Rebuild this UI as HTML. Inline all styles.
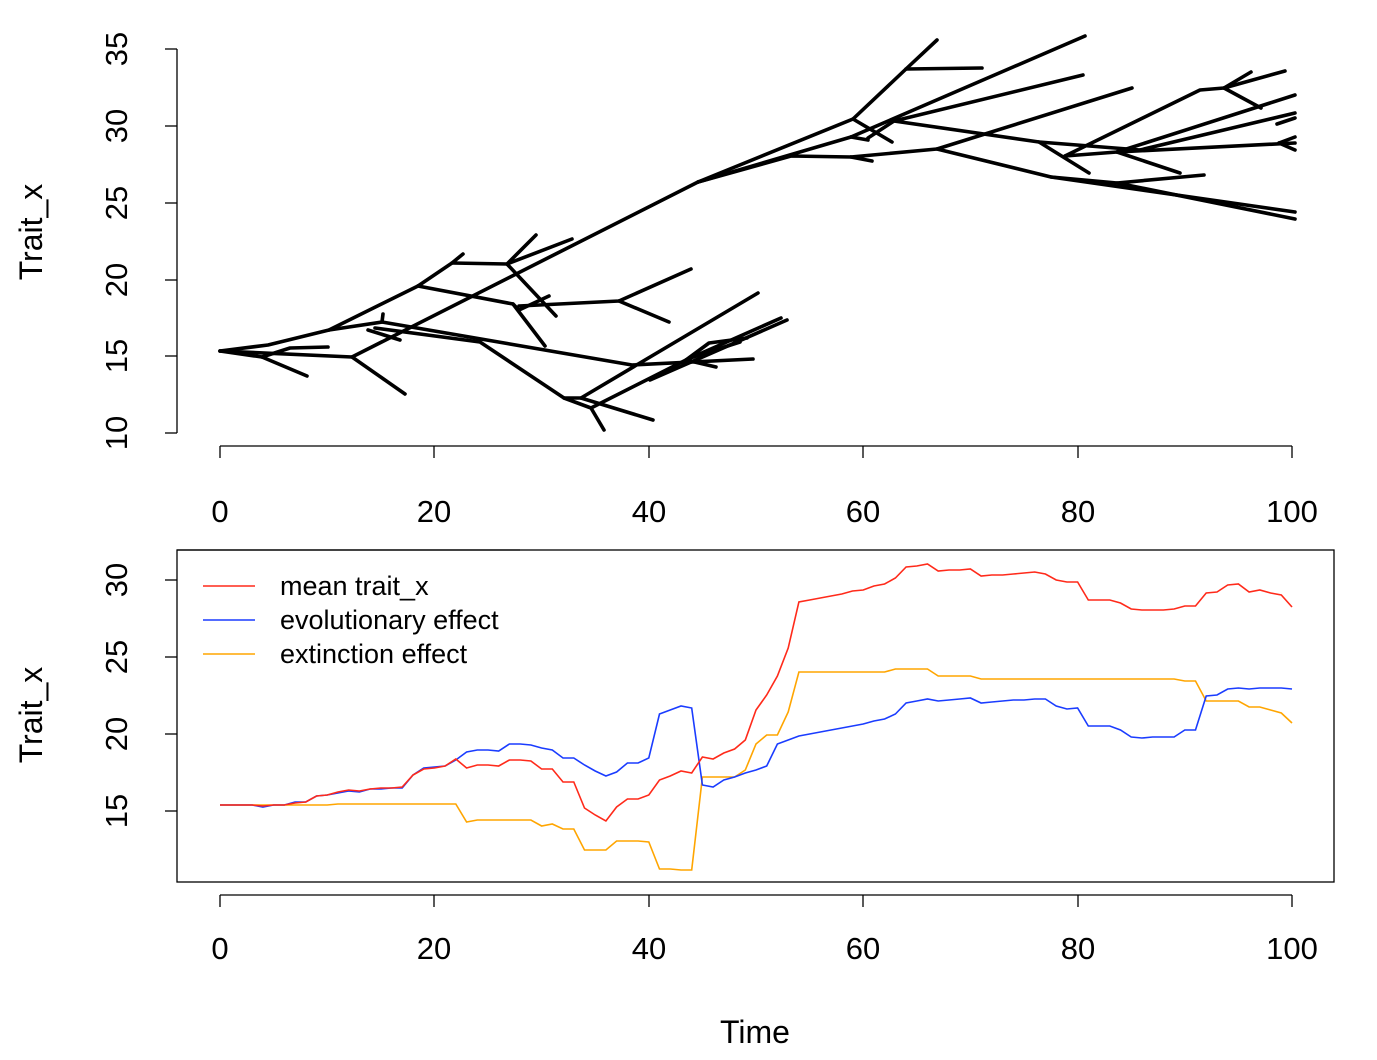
<!DOCTYPE html>
<html><head><meta charset="utf-8"><style>
html,body{margin:0;padding:0;background:#fff}
svg{display:block}
text{font-family:"Liberation Sans",Arial,sans-serif;fill:#000}
</style></head><body>
<svg id="s" width="1377" height="1060" viewBox="0 0 1377 1060" xmlns="http://www.w3.org/2000/svg">
<g stroke="#000" stroke-width="1.3" fill="none">
<line x1="177" y1="49" x2="177" y2="433"/>
<line x1="165" y1="49" x2="177" y2="49"/><line x1="165" y1="126" x2="177" y2="126"/><line x1="165" y1="203" x2="177" y2="203"/><line x1="165" y1="280" x2="177" y2="280"/><line x1="165" y1="356" x2="177" y2="356"/><line x1="165" y1="433" x2="177" y2="433"/>
<line x1="220" y1="446" x2="1292" y2="446"/>
<line x1="220" y1="446" x2="220" y2="458"/><line x1="434" y1="446" x2="434" y2="458"/><line x1="649" y1="446" x2="649" y2="458"/><line x1="863" y1="446" x2="863" y2="458"/><line x1="1078" y1="446" x2="1078" y2="458"/><line x1="1292" y1="446" x2="1292" y2="458"/>
<rect x="177" y="550" width="1157" height="332"/>
<line x1="165" y1="580" x2="177" y2="580"/><line x1="165" y1="657" x2="177" y2="657"/><line x1="165" y1="734" x2="177" y2="734"/><line x1="165" y1="811" x2="177" y2="811"/>
<line x1="220" y1="895" x2="1292" y2="895"/>
<line x1="220" y1="895" x2="220" y2="907"/><line x1="434" y1="895" x2="434" y2="907"/><line x1="649" y1="895" x2="649" y2="907"/><line x1="863" y1="895" x2="863" y2="907"/><line x1="1078" y1="895" x2="1078" y2="907"/><line x1="1292" y1="895" x2="1292" y2="907"/>
</g>
<g font-size="31" text-anchor="middle">
<text x="220" y="522">0</text><text x="434" y="522">20</text><text x="649" y="522">40</text><text x="863" y="522">60</text><text x="1078" y="522">80</text><text x="1292" y="522">100</text>
<text x="220" y="959">0</text><text x="434" y="959">20</text><text x="649" y="959">40</text><text x="863" y="959">60</text><text x="1078" y="959">80</text><text x="1292" y="959">100</text>
<text x="755" y="1043" font-size="32">Time</text>
<text transform="translate(127,49) rotate(-90)">35</text>
<text transform="translate(127,126) rotate(-90)">30</text>
<text transform="translate(127,203) rotate(-90)">25</text>
<text transform="translate(127,280) rotate(-90)">20</text>
<text transform="translate(127,356) rotate(-90)">15</text>
<text transform="translate(127,433) rotate(-90)">10</text>
<text transform="translate(127,580) rotate(-90)">30</text>
<text transform="translate(127,657) rotate(-90)">25</text>
<text transform="translate(127,734) rotate(-90)">20</text>
<text transform="translate(127,811) rotate(-90)">15</text>
<text transform="translate(42,232) rotate(-90)" font-size="32">Trait_x</text>
<text transform="translate(42,715) rotate(-90)" font-size="32">Trait_x</text>
</g>
<g id="tree" stroke="#000" stroke-width="3.6" fill="none" stroke-linecap="round" stroke-linejoin="round"></g>
<g id="series" fill="none" stroke-width="1.6"></g>
<rect x="178" y="551" width="342" height="130" fill="#fff"/>
<line x1="177" y1="550" x2="520" y2="550" stroke="#000" stroke-width="1.3"/>
<line x1="203" y1="586" x2="255" y2="586" stroke="#ff2a1a" stroke-width="1.6"/>
<line x1="203" y1="620" x2="255" y2="620" stroke="#1a3cff" stroke-width="1.6"/>
<line x1="203" y1="654" x2="255" y2="654" stroke="#ffa500" stroke-width="1.6"/>
<g font-size="27"><text x="280" y="595">mean trait_x</text><text x="280" y="629">evolutionary effect</text><text x="280" y="663">extinction effect</text></g>
</svg>
<script>
var NS="http://www.w3.org/2000/svg";
var tree=[
[[220,351],[262,357],[307,376]],
[[220,351],[268,345],[329,330],[418,286],[452,263],[463,254]],
[[452,263],[507,264],[536,235]],[[507,264],[572,239]],[[507,264],[556,316]],
[[418,286],[513,304],[545,346]],[[513,304],[519,310],[549,296]],[[519,306],[619,301],[691,269]],[[619,301],[669,322]],
[[220,351],[352,357],[405,394]],[[352,357],[698,182]],
[[262,357],[290,348],[328,347]],
[[329,330],[382,322],[632,365],[753,359]],[[382,322],[383,314]],[[368,330],[400,340]],
[[375,328],[480,342],[564,398],[581,398],[653,420]],
[[564,398],[591,408],[604,430]],[[581,398],[758,293]],
[[591,408],[686,360],[709,343],[747,338]],[[686,360],[781,318]],[[686,360],[716,367]],[[650,380],[787,320]],[[690,358],[740,342]],
[[698,182],[853,119],[906,69],[937,40]],[[906,69],[982,68]],[[853,119],[892,142]],
[[698,182],[851,137],[1085,36]],[[851,137],[868,140]],
[[868,138],[894,121],[1039,142],[1140,150]],[[894,121],[1083,75]],[[1039,142],[1089,173]],
[[1065,156],[1117,152],[1295,143]],[[1279,143],[1295,137]],[[1279,143],[1295,150]],[[1117,152],[1180,173]],
[[698,182],[791,156],[851,157],[937,149],[1132,88]],[[851,157],[872,161]],
[[937,149],[1051,177],[1117,183],[1295,219]],[[1051,177],[1295,212]],[[1117,183],[1204,175]],
[[1065,156],[1200,90],[1224,88],[1285,71]],[[1224,88],[1251,72]],[[1224,88],[1261,108]],
[[1117,152],[1295,95]],[[1140,150],[1295,113]],[[1277,124],[1295,118]]
];
var g=document.getElementById("tree");
tree.forEach(function(p){var e=document.createElementNS(NS,"polyline");e.setAttribute("points",p.map(function(q){return q.join(",")}).join(" "));g.appendChild(e);});
var red=[805,805,805,805,806,805,805,803,802,796,795,792,790,791,789,788,788,787,775,769,768,766,759,768,765,765,766,760,760,761,769,769,782,782,808,815,821,807,799,799,795,780,776,771,773,757,759,753,749,740,710,695,676,648,602,600,598,596,594,591,590,586,584,578,567,566,564,571,570,570,569,576,575,575,574,573,572,574,580,582,582,600,600,600,603,609,610,610,610,609,606,606,593,592,585,584,592,590,593,595,607];
var blue=[805,805,805,805,807,805,805,802,802,796,795,793,791,792,789,789,788,788,775,768,767,766,760,752,750,750,751,744,744,745,748,750,758,758,765,771,776,772,763,763,758,714,710,706,708,785,787,780,777,773,770,766,744,740,736,734,732,730,728,726,724,721,719,714,703,701,699,701,700,699,698,703,702,701,700,700,699,699,706,709,708,726,726,726,730,737,738,737,737,737,730,730,696,695,689,688,689,688,688,688,689];
var org=[805,805,805,805,805,805,805,805,805,805,805,804,804,804,804,804,804,804,804,804,804,804,804,822,820,820,820,820,820,820,826,824,829,829,850,850,850,841,841,841,842,869,869,870,870,777,777,777,777,770,744,735,735,712,672,672,672,672,672,672,672,672,672,669,669,669,669,676,676,676,676,679,679,679,679,679,679,679,679,679,679,679,679,679,679,679,679,679,679,679,681,681,701,701,701,701,707,707,710,713,723];
var sg=document.getElementById("series");
[[org,"#ffa500"],[blue,"#1a3cff"],[red,"#ff2a1a"]].forEach(function(a){var e=document.createElementNS(NS,"polyline");e.setAttribute("stroke",a[1]);e.setAttribute("points",a[0].map(function(y,i){return (220+i*10.72).toFixed(1)+","+y}).join(" "));sg.appendChild(e);});
</script>
</body></html>
